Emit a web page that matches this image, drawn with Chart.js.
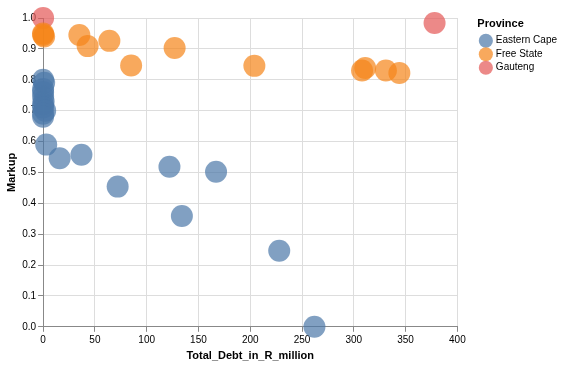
<!DOCTYPE html>
<html>
<head>
<meta charset="utf-8">
<script src="https://cdn.jsdelivr.net/npm/chart.js@4"></script>
<style>
  html, body { margin: 0; padding: 0; background: #fff; }
  #wrap { width: 561px; height: 365px; position: relative; }
</style>
</head>
<body>
<div id="wrap"><canvas id="scatter"></canvas></div>
<script>
// data: [Total_Debt_in_R_million, Markup]
var provinces = ['Eastern Cape', 'Free State', 'Gauteng'];
var easternCape = [
  [0, 0.80], [1, 0.79], [0, 0.77], [0, 0.76], [0, 0.745], [0.5, 0.73],
  [0, 0.72], [0, 0.71], [2, 0.70], [0, 0.69], [0, 0.68],
  [3, 0.59], [16, 0.546], [37, 0.557], [72, 0.454], [122, 0.518],
  [134, 0.359], [167, 0.502], [228, 0.246], [262, 0.0]
];
var freeState = [
  [0, 0.95], [1, 0.94], [0, 0.945], [35, 0.945], [43, 0.909], [64, 0.926],
  [85, 0.846], [127, 0.903], [204, 0.845], [308, 0.83], [311, 0.838],
  [331, 0.83], [344, 0.822]
];
var gauteng = [[0, 1.0], [378, 0.984]];
var xTicks = [0, 50, 100, 150, 200, 250, 300, 350, 400];
var yTicks = [0, 0.1, 0.2, 0.3, 0.4, 0.5, 0.6, 0.7, 0.8, 0.9, 1.0];

var fills = ['rgba(76,120,168,0.7)', 'rgba(245,133,24,0.7)', 'rgba(228,87,86,0.7)'];

function toPoints(arr) {
  return arr.map(function(p) { return { x: p[0], y: p[1] }; });
}

// push the legend a bit away from the plot, like the vega layout
var legendGap = {
  id: 'legendGap',
  afterLayout: function(chart) {
    var lg = chart.legend;
    if (!lg) return;
    lg.left += 20;
    lg.right += 20;
  }
};

document.addEventListener('DOMContentLoaded', function() {
  Chart.defaults.font.family = '"Liberation Sans", Arial, sans-serif';
  var ctx = document.getElementById('scatter').getContext('2d');
  var series = [easternCape, freeState, gauteng];
  new Chart(ctx, {
    type: 'scatter',
    data: {
      datasets: series.map(function(s, i) {
        return {
          label: provinces[i],
          data: toPoints(s),
          backgroundColor: fills[i],
          borderWidth: 0,
          pointRadius: 11,
          pointHoverRadius: 11,
          clip: false
        };
      })
    },
    plugins: [legendGap],
    options: {
      responsive: true,
      maintainAspectRatio: false,
      animation: false,
      layout: { padding: { top: 18, right: 14, bottom: 2, left: 5 } },
      plugins: {
        tooltip: { enabled: false },
        legend: {
          position: 'right',
          align: 'start',
          title: {
            display: true,
            text: 'Province',
            position: 'start',
            color: '#000',
            font: { size: 11, weight: 'bold' },
            padding: { top: 0, bottom: 1 }
          },
          labels: {
            usePointStyle: true,
            pointStyle: 'circle',
            boxWidth: 10,
            boxHeight: 10,
            padding: 3.5,
            color: '#000',
            font: { size: 10 },
            generateLabels: function(chart) {
              return provinces.map(function(p, i) {
                return {
                  text: p,
                  fillStyle: fills[i],
                  strokeStyle: fills[i],
                  lineWidth: 0,
                  pointStyle: 'circle',
                  datasetIndex: i
                };
              });
            }
          }
        }
      },
      scales: {
        x: {
          type: 'linear',
          min: 0,
          max: 400,
          afterBuildTicks: function(axis) {
            axis.ticks = xTicks.map(function(v) { return { value: v }; });
          },
          grid: { color: '#ddd', tickColor: '#888', tickLength: 5 },
          border: { color: '#888' },
          ticks: { color: '#000', font: { size: 10 }, padding: 2, maxRotation: 0 },
          title: {
            display: true,
            text: 'Total_Debt_in_R_million',
            color: '#000',
            font: { size: 11, weight: 'bold' },
            padding: { top: 2, bottom: 0 }
          }
        },
        y: {
          type: 'linear',
          min: 0,
          max: 1,
          afterBuildTicks: function(axis) {
            axis.ticks = yTicks.map(function(v) { return { value: v }; });
          },
          grid: { color: '#ddd', tickColor: '#888', tickLength: 5 },
          border: { color: '#888' },
          ticks: {
            color: '#000',
            font: { size: 10 },
            padding: 2,
            callback: function(v) { return Number(v).toFixed(1); }
          },
          title: {
            display: true,
            text: 'Markup',
            color: '#000',
            font: { size: 11, weight: 'bold' },
            padding: { top: 0, bottom: 2 }
          }
        }
      }
    }
  });
});
</script>
</body>
</html>
